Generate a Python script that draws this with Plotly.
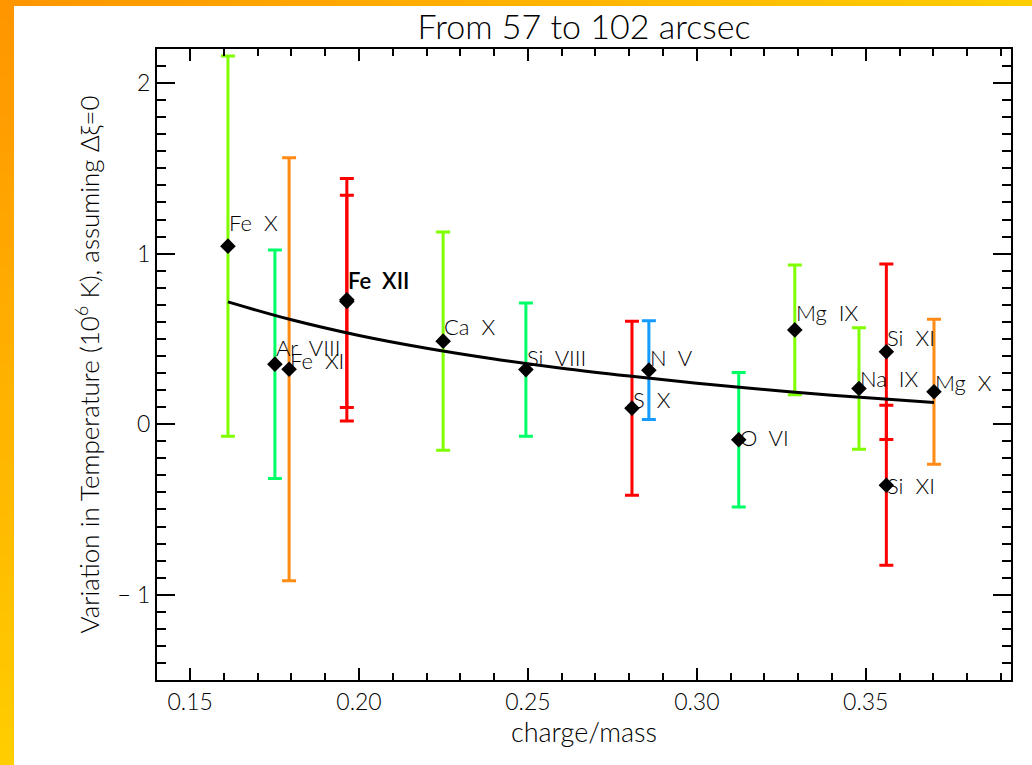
import plotly.graph_objects as go

# ---- data -------------------------------------------------------------
ions = ["Fe X", "Ar VIII", "Fe XI", "Fe XII", "Fe XII", "Ca X", "Si VIII", "S X",
        "N V", "O VI", "Mg IX", "Na IX", "Si XI", "Si XI", "Mg X"]
charge_mass = [0.1612, 0.1751, 0.1793, 0.1964, 0.1964, 0.2249, 0.2494, 0.2808,
               0.2858, 0.3124, 0.3290, 0.3480, 0.3561, 0.3561, 0.3702]
delta_t = [1.044, 0.352, 0.322, 0.730, 0.720, 0.487, 0.320, 0.094,
           0.317, -0.091, 0.553, 0.209, 0.425, -0.358, 0.190]
delta_t_err = [1.115, 0.670, 1.240, 0.711, 0.622, 0.640, 0.390, 0.510,
               0.289, 0.394, 0.380, 0.356, 0.515, 0.469, 0.425]
ion_colors = ["#80ff00", "#00ff66", "#ff8a14", "#ff0000", "#ff0000", "#80ff00",
              "#00ff66", "#ff0000", "#149bff", "#00ff66", "#80ff00", "#80ff00",
              "#ff0000", "#ff0000", "#ff8a14"]

# fitted trend, sampled along charge/mass
fit_x = [0.1612, 0.18, 0.20, 0.22, 0.24, 0.26, 0.28, 0.30, 0.32, 0.34, 0.3702]
fit_y = [0.717, 0.612, 0.520, 0.445, 0.382, 0.328, 0.282, 0.240, 0.203, 0.170, 0.127]

x_ticks = [0.15, 0.20, 0.25, 0.30, 0.35]
y_ticks = [-1, 0, 1, 2]

# vertical label offsets (px) above each marker
label_shift = [24, 17, 9, 19, 19, 15, 12, 9, 13, 2, 17, 10, 14, 0, 9]

FONT = "Lato, Liberation Sans, Arial, sans-serif"
LIGHT = 300

def font(size, weight=LIGHT):
    return dict(family=FONT, size=size, color="black", weight=weight)

fig = go.Figure()

for i in range(len(ions)):
    fig.add_trace(go.Scatter(
        x=[charge_mass[i]], y=[delta_t[i]], mode="markers",
        marker=dict(size=1, color="rgba(0,0,0,0)"),
        error_y=dict(type="data", array=[delta_t_err[i]], visible=True,
                     color=ion_colors[i], thickness=3, width=7),
        showlegend=False, hoverinfo="skip"))

fig.add_trace(go.Scatter(x=fit_x, y=fit_y, mode="lines", line_shape="spline",
                         line=dict(color="black", width=3), showlegend=False))

fig.add_trace(go.Scatter(x=charge_mass, y=delta_t, mode="markers",
                         marker=dict(symbol="diamond", size=12, color="black"),
                         showlegend=False))

# one label per marker; two measurements at the same spot share a heavier label
groups = {}
for i, name in enumerate(ions):
    key = (name, charge_mass[i], round(delta_t[i], 1))
    groups.setdefault(key, []).append(i)
for (name, xv, _), idx in groups.items():
    i = idx[0]
    txt = name.replace(" ", "\u00a0\u00a0")
    fig.add_annotation(x=xv, y=delta_t[i], text=txt, showarrow=False,
                       xanchor="left", yanchor="middle", xshift=-1,
                       yshift=label_shift[i],
                       font=font(22, 600 if len(idx) > 1 else LIGHT))

# framed border strip: orange to yellow gradient on the left and top
W, H = 1032, 765
L, R, T, B = 157, 1011, 49, 680

def px_x(px):
    return (px - L) / (R - L)

def px_y(py):
    return (B - py) / (B - T)

def mix(c1, c2, t):
    return "rgb(%d,%d,%d)" % tuple(round(a + (b - a) * t) for a, b in zip(c1, c2))

orange = (255, 150, 0)
yellow = (255, 205, 0)
n = 40
for k in range(n):
    y0 = H * k / n
    y1 = H * (k + 1) / n + 1
    fig.add_shape(type="rect", xref="paper", yref="paper", layer="below",
                  x0=px_x(0), x1=px_x(14), y0=px_y(y1), y1=px_y(y0),
                  line=dict(width=0), fillcolor=mix(orange, yellow, k / (n - 1)))
    x0 = W * k / n
    x1 = W * (k + 1) / n + 1
    fig.add_shape(type="rect", xref="paper", yref="paper", layer="below",
                  x0=px_x(max(x0, 14)), x1=px_x(x1), y0=px_y(6), y1=px_y(0),
                  line=dict(width=0), fillcolor=mix(orange, yellow, k / (n - 1)))

axis_common = dict(showline=True, linecolor="black", linewidth=2, mirror="allticks",
                   ticks="inside", tickcolor="black", tickwidth=2,
                   showgrid=False, zeroline=False, tickfont=font(23))

fig.update_xaxes(range=[0.1402, 0.393], tickvals=x_ticks,
                 ticktext=["%.2f" % v for v in x_ticks], ticklen=12,
                 minor=dict(ticks="inside", dtick=0.01, tick0=0.0, ticklen=7,
                            tickwidth=2, tickcolor="black"),
                 title=dict(text="charge/mass", standoff=5, font=font(27)),
                 **axis_common)
fig.update_yaxes(range=[-1.5, 2.2], tickvals=y_ticks,
                 ticktext=["\u2212 1", "0", "1", "2"], ticklen=18,
                 minor=dict(ticks="inside", dtick=0.1, tick0=0.0, ticklen=9,
                            tickwidth=2, tickcolor="black"),
                 title=dict(text="Variation in Temperature (10<sup>6</sup> K), assuming \u0394\u03be=0",
                            standoff=10, font=font(26)),
                 **axis_common)

fig.update_layout(
    width=W, height=H,
    margin=dict(l=L, r=W - R, t=T, b=H - B),
    paper_bgcolor="white", plot_bgcolor="white",
    title=dict(text="From 57 to 102 arcsec", x=(L + R) / 2 / W, xanchor="center",
               y=1 - 27 / H, yanchor="middle", font=font(34)),
    showlegend=False,
)

fig.write_html("out.html")
